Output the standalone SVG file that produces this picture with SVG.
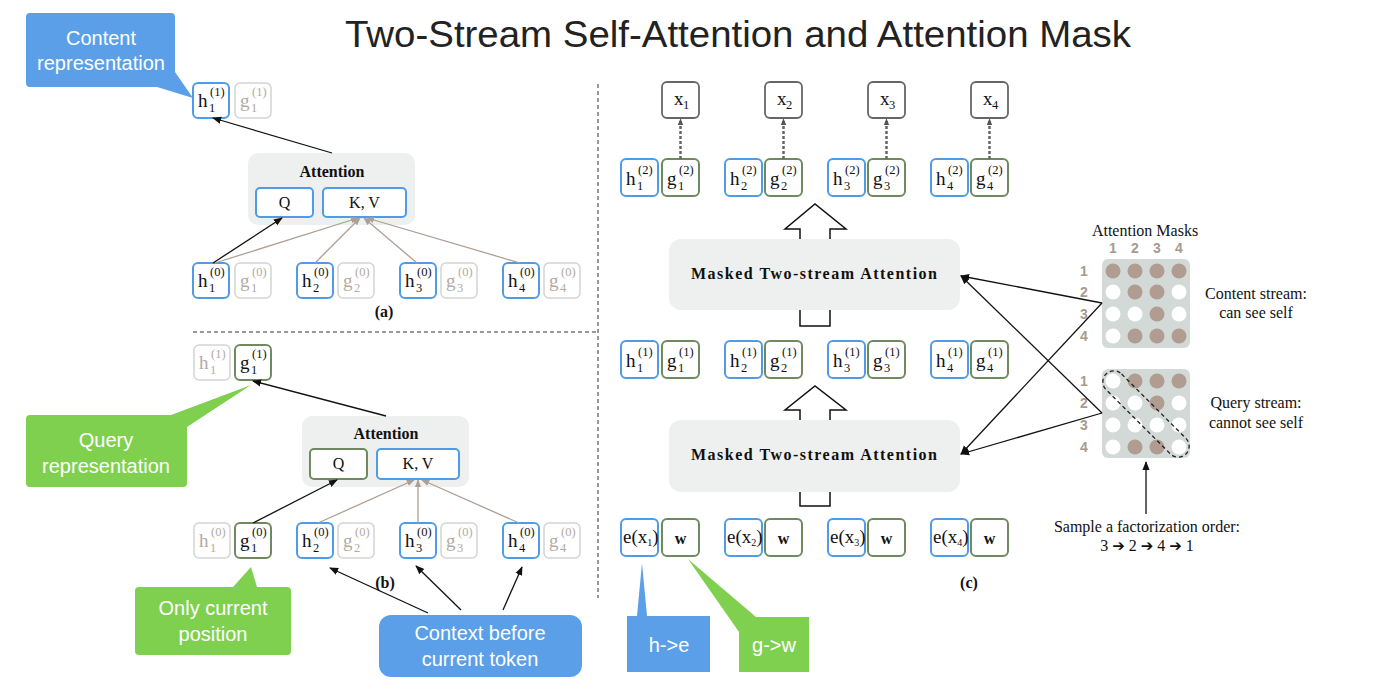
<svg xmlns="http://www.w3.org/2000/svg" width="1400" height="697" viewBox="0 0 1400 697">
<style>
.hb{fill:#fff;stroke:#4f9be8;stroke-width:2}
.gb{fill:#fff;stroke:#6f8a5e;stroke-width:2}
.fb{fill:#fff;stroke:#d4d4d4;stroke-width:1.5}
.xb{fill:#fff;stroke:#666;stroke-width:1.8}
.m{font-family:"Liberation Serif",serif;font-size:19px;fill:#111}
.sp,.sb{font-family:"Liberation Serif",serif;font-size:12.5px;fill:#111}
.f .m,.f .sp,.f .sb{fill:#b3aaa3}
.att{fill:#eef0ef}
.bt{font-family:"Liberation Serif",serif;font-weight:bold;font-size:16px;fill:#111;text-anchor:middle}
.qt{font-family:"Liberation Serif",serif;font-size:16px;fill:#111;text-anchor:middle}
.ct{font-family:"Liberation Sans",sans-serif;font-size:20px;fill:#fff;text-anchor:middle}
.st{font-family:"Liberation Serif",serif;font-size:16px;fill:#111;text-anchor:middle}
.ml{font-family:"Liberation Sans",sans-serif;font-weight:bold;font-size:14px;fill:#a89a8e;text-anchor:middle}
.ar{font-family:"DejaVu Sans",sans-serif;font-size:15px}
.dk{fill:#b09c91}
.wt{fill:#fff}
.blk{stroke:#111;stroke-width:1.3;fill:none;marker-end:url(#ab)}
.gry{stroke:#ad9f95;stroke-width:1.3;fill:none;marker-end:url(#ag)}
.dsh{stroke:#666;stroke-width:2.5;fill:none;stroke-dasharray:3 2;marker-end:url(#ad)}
.sep{stroke:#777;stroke-width:1.5;fill:none;stroke-dasharray:4 3}
.cb{fill:#5b9fe8}
.cg{fill:#80d050}
.hol{fill:#fff;stroke:#111;stroke-width:1.5}
</style>
<defs>
<marker id="ab" viewBox="0 0 10 10" refX="9" refY="5" markerWidth="9" markerHeight="9" markerUnits="userSpaceOnUse" orient="auto"><path d="M0,1 L10,5 L0,9 z" fill="#111"/></marker>
<marker id="ag" viewBox="0 0 10 10" refX="9" refY="5" markerWidth="8" markerHeight="8" markerUnits="userSpaceOnUse" orient="auto"><path d="M0,1 L10,5 L0,9 z" fill="#ad9f95"/></marker>
<marker id="ad" viewBox="0 0 10 10" refX="9" refY="5" markerWidth="7" markerHeight="7" markerUnits="userSpaceOnUse" orient="auto"><path d="M0,1 L10,5 L0,9 z" fill="#555"/></marker>
</defs>
<rect width="1400" height="697" fill="#fff"/>
<text x="738" y="47" text-anchor="middle" font-family="Liberation Sans, sans-serif" font-size="36" fill="#222" textLength="786" lengthAdjust="spacingAndGlyphs">Two-Stream Self-Attention and Attention Mask</text>

<!-- separators -->
<line class="sep" x1="193" y1="332" x2="597" y2="332"/>
<line class="sep" x1="598" y1="84" x2="598" y2="598"/>

<!-- callouts -->
<g id="callout-content">
<path class="cb" d="M30,13 H171 Q175,13 175,17 V72 L193,98 L157,87 H30 Q26,87 26,83 V17 Q26,13 30,13 Z"/>
<text class="ct" x="101" y="45">Content</text>
<text class="ct" x="101" y="70">representation</text>
</g>
<g id="callout-query">
<path class="cg" d="M30,415 H171 L251,385 L187,427 V483 Q187,487 183,487 H30 Q26,487 26,483 V419 Q26,415 30,415 Z"/>
<text class="ct" x="106" y="447">Query</text>
<text class="ct" x="106" y="473">representation</text>
</g>
<g id="callout-only">
<path class="cg" d="M139,587 H233 L251,567 L257,587 H287 Q291,587 291,591 V651 Q291,655 287,655 H139 Q135,655 135,651 V591 Q135,587 139,587 Z"/>
<text class="ct" x="213" y="615">Only current</text>
<text class="ct" x="213" y="641">position</text>
</g>
<g id="callout-context">
<rect class="cb" x="379" y="615" width="203" height="62" rx="12"/>
<text class="ct" x="480" y="640">Context before</text>
<text class="ct" x="480" y="666">current token</text>
</g>
<g id="callout-he">
<path class="cb" d="M627,616 H637 L642,563 L647,616 H710 V672 H627 Z"/>
<text class="ct" x="669" y="652" font-size="22">h-&gt;e</text>
</g>
<g id="callout-gw">
<path class="cg" d="M739,617 H809 V672 H739 V632 L688,559 L756,617 Z"/>
<text class="ct" x="774" y="652" font-size="22">g-&gt;w</text>
</g>

<!-- panel (a) -->
<g id="a-attention">
<rect class="att" x="248" y="153" width="167" height="72" rx="10"/>
<text class="bt" x="332" y="177">Attention</text>
<rect class="hb" x="256" y="188" width="57" height="29" rx="4"/>
<text class="qt" x="284.5" y="208">Q</text>
<rect class="hb" x="323" y="188" width="83" height="29" rx="4"/>
<text class="qt" x="364.5" y="208">K, V</text>
</g>
<g id="a-h1-1" transform="translate(193,83)"><rect class="hb" width="36" height="35" rx="5"/><text class="m" x="5" y="24">h</text><text class="sp" x="17" y="13">(1)</text><text class="sb" x="16" y="29">1</text></g>
<g id="a-g1-1" class="f" transform="translate(235,83)"><rect class="fb" width="36" height="35" rx="5"/><text class="m" x="5" y="24">g</text><text class="sp" x="17" y="13">(1)</text><text class="sb" x="16" y="29">1</text></g>
<g id="a-h1-0" transform="translate(193,263)"><rect class="hb" width="36" height="35" rx="5"/><text class="m" x="5" y="24">h</text><text class="sp" x="17" y="13">(0)</text><text class="sb" x="16" y="29">1</text></g>
<g id="a-g1-0" class="f" transform="translate(235,263)"><rect class="fb" width="36" height="35" rx="5"/><text class="m" x="5" y="24">g</text><text class="sp" x="17" y="13">(0)</text><text class="sb" x="16" y="29">1</text></g>
<g id="a-h2-0" transform="translate(297,263)"><rect class="hb" width="36" height="35" rx="5"/><text class="m" x="5" y="24">h</text><text class="sp" x="17" y="13">(0)</text><text class="sb" x="16" y="29">2</text></g>
<g id="a-g2-0" class="f" transform="translate(338,263)"><rect class="fb" width="36" height="35" rx="5"/><text class="m" x="5" y="24">g</text><text class="sp" x="17" y="13">(0)</text><text class="sb" x="16" y="29">2</text></g>
<g id="a-h3-0" transform="translate(400,263)"><rect class="hb" width="36" height="35" rx="5"/><text class="m" x="5" y="24">h</text><text class="sp" x="17" y="13">(0)</text><text class="sb" x="16" y="29">3</text></g>
<g id="a-g3-0" class="f" transform="translate(441,263)"><rect class="fb" width="36" height="35" rx="5"/><text class="m" x="5" y="24">g</text><text class="sp" x="17" y="13">(0)</text><text class="sb" x="16" y="29">3</text></g>
<g id="a-h4-0" transform="translate(503,263)"><rect class="hb" width="36" height="35" rx="5"/><text class="m" x="5" y="24">h</text><text class="sp" x="17" y="13">(0)</text><text class="sb" x="16" y="29">4</text></g>
<g id="a-g4-0" class="f" transform="translate(544,263)"><rect class="fb" width="36" height="35" rx="5"/><text class="m" x="5" y="24">g</text><text class="sp" x="17" y="13">(0)</text><text class="sb" x="16" y="29">4</text></g>
<text class="bt" x="384" y="317">(a)</text>

<!-- panel (b) -->
<g id="b-attention">
<rect class="att" x="302" y="416" width="167" height="71" rx="10"/>
<text class="bt" x="386" y="439">Attention</text>
<rect class="gb" x="310" y="449" width="57" height="30" rx="4"/>
<text class="qt" x="338.5" y="469">Q</text>
<rect class="hb" x="377" y="449" width="82" height="30" rx="4"/>
<text class="qt" x="418" y="469">K, V</text>
</g>
<g id="b-h1-1" class="f" transform="translate(194,345)"><rect class="fb" width="36" height="35" rx="5"/><text class="m" x="5" y="24">h</text><text class="sp" x="17" y="13">(1)</text><text class="sb" x="16" y="29">1</text></g>
<g id="b-g1-1" transform="translate(235,345)"><rect class="gb" width="36" height="35" rx="5"/><text class="m" x="5" y="24">g</text><text class="sp" x="17" y="13">(1)</text><text class="sb" x="16" y="29">1</text></g>
<g id="b-h1-0" class="f" transform="translate(194,523)"><rect class="fb" width="36" height="35" rx="5"/><text class="m" x="5" y="24">h</text><text class="sp" x="17" y="13">(0)</text><text class="sb" x="16" y="29">1</text></g>
<g id="b-g1-0" transform="translate(235,523)"><rect class="gb" width="36" height="35" rx="5"/><text class="m" x="5" y="24">g</text><text class="sp" x="17" y="13">(0)</text><text class="sb" x="16" y="29">1</text></g>
<g id="b-h2-0" transform="translate(297,523)"><rect class="hb" width="36" height="35" rx="5"/><text class="m" x="5" y="24">h</text><text class="sp" x="17" y="13">(0)</text><text class="sb" x="16" y="29">2</text></g>
<g id="b-g2-0" class="f" transform="translate(338,523)"><rect class="fb" width="36" height="35" rx="5"/><text class="m" x="5" y="24">g</text><text class="sp" x="17" y="13">(0)</text><text class="sb" x="16" y="29">2</text></g>
<g id="b-h3-0" transform="translate(400,523)"><rect class="hb" width="36" height="35" rx="5"/><text class="m" x="5" y="24">h</text><text class="sp" x="17" y="13">(0)</text><text class="sb" x="16" y="29">3</text></g>
<g id="b-g3-0" class="f" transform="translate(441,523)"><rect class="fb" width="36" height="35" rx="5"/><text class="m" x="5" y="24">g</text><text class="sp" x="17" y="13">(0)</text><text class="sb" x="16" y="29">3</text></g>
<g id="b-h4-0" transform="translate(503,523)"><rect class="hb" width="36" height="35" rx="5"/><text class="m" x="5" y="24">h</text><text class="sp" x="17" y="13">(0)</text><text class="sb" x="16" y="29">4</text></g>
<g id="b-g4-0" class="f" transform="translate(544,523)"><rect class="fb" width="36" height="35" rx="5"/><text class="m" x="5" y="24">g</text><text class="sp" x="17" y="13">(0)</text><text class="sb" x="16" y="29">4</text></g>
<text class="bt" x="385" y="588">(b)</text>

<!-- panel (c) -->
<g id="c-x1" transform="translate(662,82)"><rect class="xb" width="37" height="36" rx="5"/><text class="m" x="12" y="23">x</text><text class="sb" x="21" y="27">1</text></g>
<g id="c-x2" transform="translate(765,82)"><rect class="xb" width="37" height="36" rx="5"/><text class="m" x="12" y="23">x</text><text class="sb" x="21" y="27">2</text></g>
<g id="c-x3" transform="translate(868,82)"><rect class="xb" width="37" height="36" rx="5"/><text class="m" x="12" y="23">x</text><text class="sb" x="21" y="27">3</text></g>
<g id="c-x4" transform="translate(971,82)"><rect class="xb" width="37" height="36" rx="5"/><text class="m" x="12" y="23">x</text><text class="sb" x="21" y="27">4</text></g>

<g id="c-h1-2" transform="translate(621,159)"><rect class="hb" width="37" height="37" rx="5"/><text class="m" x="5" y="26">h</text><text class="sp" x="17" y="15">(2)</text><text class="sb" x="16" y="31">1</text></g>
<g id="c-g1-2" transform="translate(662,159)"><rect class="gb" width="37" height="37" rx="5"/><text class="m" x="5" y="26">g</text><text class="sp" x="17" y="15">(2)</text><text class="sb" x="16" y="31">1</text></g>
<g id="c-h2-2" transform="translate(725,159)"><rect class="hb" width="37" height="37" rx="5"/><text class="m" x="5" y="26">h</text><text class="sp" x="17" y="15">(2)</text><text class="sb" x="16" y="31">2</text></g>
<g id="c-g2-2" transform="translate(765,159)"><rect class="gb" width="37" height="37" rx="5"/><text class="m" x="5" y="26">g</text><text class="sp" x="17" y="15">(2)</text><text class="sb" x="16" y="31">2</text></g>
<g id="c-h3-2" transform="translate(828,159)"><rect class="hb" width="37" height="37" rx="5"/><text class="m" x="5" y="26">h</text><text class="sp" x="17" y="15">(2)</text><text class="sb" x="16" y="31">3</text></g>
<g id="c-g3-2" transform="translate(868,159)"><rect class="gb" width="37" height="37" rx="5"/><text class="m" x="5" y="26">g</text><text class="sp" x="17" y="15">(2)</text><text class="sb" x="16" y="31">3</text></g>
<g id="c-h4-2" transform="translate(931,159)"><rect class="hb" width="37" height="37" rx="5"/><text class="m" x="5" y="26">h</text><text class="sp" x="17" y="15">(2)</text><text class="sb" x="16" y="31">4</text></g>
<g id="c-g4-2" transform="translate(971,159)"><rect class="gb" width="37" height="37" rx="5"/><text class="m" x="5" y="26">g</text><text class="sp" x="17" y="15">(2)</text><text class="sb" x="16" y="31">4</text></g>

<g id="c-masked-2">
<rect class="att" x="669" y="239" width="291" height="71" rx="12"/>
<text class="bt" x="814" y="279" textLength="246" lengthAdjust="spacing">Masked Two-stream Attention</text>
</g>

<g id="c-h1-1" transform="translate(621,341)"><rect class="hb" width="37" height="37" rx="5"/><text class="m" x="5" y="26">h</text><text class="sp" x="17" y="15">(1)</text><text class="sb" x="16" y="31">1</text></g>
<g id="c-g1-1" transform="translate(662,341)"><rect class="gb" width="37" height="37" rx="5"/><text class="m" x="5" y="26">g</text><text class="sp" x="17" y="15">(1)</text><text class="sb" x="16" y="31">1</text></g>
<g id="c-h2-1" transform="translate(725,341)"><rect class="hb" width="37" height="37" rx="5"/><text class="m" x="5" y="26">h</text><text class="sp" x="17" y="15">(1)</text><text class="sb" x="16" y="31">2</text></g>
<g id="c-g2-1" transform="translate(765,341)"><rect class="gb" width="37" height="37" rx="5"/><text class="m" x="5" y="26">g</text><text class="sp" x="17" y="15">(1)</text><text class="sb" x="16" y="31">2</text></g>
<g id="c-h3-1" transform="translate(828,341)"><rect class="hb" width="37" height="37" rx="5"/><text class="m" x="5" y="26">h</text><text class="sp" x="17" y="15">(1)</text><text class="sb" x="16" y="31">3</text></g>
<g id="c-g3-1" transform="translate(868,341)"><rect class="gb" width="37" height="37" rx="5"/><text class="m" x="5" y="26">g</text><text class="sp" x="17" y="15">(1)</text><text class="sb" x="16" y="31">3</text></g>
<g id="c-h4-1" transform="translate(931,341)"><rect class="hb" width="37" height="37" rx="5"/><text class="m" x="5" y="26">h</text><text class="sp" x="17" y="15">(1)</text><text class="sb" x="16" y="31">4</text></g>
<g id="c-g4-1" transform="translate(971,341)"><rect class="gb" width="37" height="37" rx="5"/><text class="m" x="5" y="26">g</text><text class="sp" x="17" y="15">(1)</text><text class="sb" x="16" y="31">4</text></g>

<g id="c-masked-1">
<rect class="att" x="669" y="420" width="291" height="72" rx="12"/>
<text class="bt" x="814" y="460" textLength="246" lengthAdjust="spacing">Masked Two-stream Attention</text>
</g>

<g id="c-e1" transform="translate(621,519)"><rect class="hb" width="37" height="37" rx="5"/><text class="m" x="2" y="24" font-size="15">e(x<tspan font-size="10" dy="3">1</tspan><tspan dy="-3">)</tspan></text></g>
<g id="c-w1" transform="translate(662,519)"><rect class="gb" width="37" height="37" rx="5"/><text class="qt" x="18.5" y="25" font-weight="bold" font-size="17">w</text></g>
<g id="c-e2" transform="translate(725,519)"><rect class="hb" width="37" height="37" rx="5"/><text class="m" x="2" y="24" font-size="15">e(x<tspan font-size="10" dy="3">2</tspan><tspan dy="-3">)</tspan></text></g>
<g id="c-w2" transform="translate(765,519)"><rect class="gb" width="37" height="37" rx="5"/><text class="qt" x="18.5" y="25" font-weight="bold" font-size="17">w</text></g>
<g id="c-e3" transform="translate(828,519)"><rect class="hb" width="37" height="37" rx="5"/><text class="m" x="2" y="24" font-size="15">e(x<tspan font-size="10" dy="3">3</tspan><tspan dy="-3">)</tspan></text></g>
<g id="c-w3" transform="translate(868,519)"><rect class="gb" width="37" height="37" rx="5"/><text class="qt" x="18.5" y="25" font-weight="bold" font-size="17">w</text></g>
<g id="c-e4" transform="translate(931,519)"><rect class="hb" width="37" height="37" rx="5"/><text class="m" x="2" y="24" font-size="15">e(x<tspan font-size="10" dy="3">4</tspan><tspan dy="-3">)</tspan></text></g>
<g id="c-w4" transform="translate(971,519)"><rect class="gb" width="37" height="37" rx="5"/><text class="qt" x="18.5" y="25" font-weight="bold" font-size="17">w</text></g>
<text class="bt" x="969" y="588">(c)</text>

<!-- masks -->
<g id="masks">
<text class="st" x="1145" y="236">Attention Masks</text>
<text class="ml" x="1113" y="253">1</text><text class="ml" x="1135" y="253">2</text><text class="ml" x="1157" y="253">3</text><text class="ml" x="1179" y="253">4</text>
<g id="content-mask">
<rect x="1102" y="259" width="88" height="89" rx="6" fill="#d3d9d7"/>
<text class="ml" x="1084" y="276">1</text><text class="ml" x="1084" y="297">2</text><text class="ml" x="1084" y="319">3</text><text class="ml" x="1084" y="341">4</text>
<circle class="dk" cx="1113" cy="271" r="7.5"/><circle class="dk" cx="1135" cy="271" r="7.5"/><circle class="dk" cx="1157" cy="271" r="7.5"/><circle class="dk" cx="1179" cy="271" r="7.5"/>
<circle class="wt" cx="1113" cy="292" r="7.5"/><circle class="dk" cx="1135" cy="292" r="7.5"/><circle class="dk" cx="1157" cy="292" r="7.5"/><circle class="wt" cx="1179" cy="292" r="7.5"/>
<circle class="wt" cx="1113" cy="314" r="7.5"/><circle class="wt" cx="1135" cy="314" r="7.5"/><circle class="dk" cx="1157" cy="314" r="7.5"/><circle class="wt" cx="1179" cy="314" r="7.5"/>
<circle class="wt" cx="1113" cy="336" r="7.5"/><circle class="dk" cx="1135" cy="336" r="7.5"/><circle class="dk" cx="1157" cy="336" r="7.5"/><circle class="dk" cx="1179" cy="336" r="7.5"/>
<text class="st" x="1256" y="299">Content stream:</text>
<text class="st" x="1256" y="318">can see self</text>
</g>
<g id="query-mask">
<rect x="1102" y="369" width="88" height="89" rx="6" fill="#d3d9d7"/>
<text class="ml" x="1084" y="386">1</text><text class="ml" x="1084" y="408">2</text><text class="ml" x="1084" y="430">3</text><text class="ml" x="1084" y="452">4</text>
<circle class="wt" cx="1113" cy="381" r="7.5"/><circle class="dk" cx="1135" cy="381" r="7.5"/><circle class="dk" cx="1157" cy="381" r="7.5"/><circle class="dk" cx="1179" cy="381" r="7.5"/>
<circle class="wt" cx="1113" cy="403" r="7.5"/><circle class="wt" cx="1135" cy="403" r="7.5"/><circle class="dk" cx="1157" cy="403" r="7.5"/><circle class="wt" cx="1179" cy="403" r="7.5"/>
<circle class="wt" cx="1113" cy="425" r="7.5"/><circle class="wt" cx="1135" cy="425" r="7.5"/><circle class="wt" cx="1157" cy="425" r="7.5"/><circle class="wt" cx="1179" cy="425" r="7.5"/>
<circle class="wt" cx="1113" cy="447" r="7.5"/><circle class="dk" cx="1135" cy="447" r="7.5"/><circle class="dk" cx="1157" cy="447" r="7.5"/><circle class="wt" cx="1179" cy="447" r="7.5"/>
<rect x="1089.5" y="403" width="113" height="22" rx="11" transform="rotate(45 1146 414)" fill="none" stroke="#222" stroke-width="1.3" stroke-dasharray="4 3"/>
<text class="st" x="1256" y="408">Query stream:</text>
<text class="st" x="1256" y="428">cannot see self</text>
</g>
<text class="st" x="1147" y="532">Sample a factorization order:</text>
<text class="st" x="1147" y="551">3 <tspan class="ar">➔</tspan> 2 <tspan class="ar">➔</tspan> 4 <tspan class="ar">➔</tspan> 1</text>
</g>

<!-- connectors -->
<g id="connectors">
<line class="blk" x1="332" y1="153" x2="213" y2="118"/>
<line class="blk" x1="213" y1="263" x2="282" y2="218"/>
<line class="gry" x1="215" y1="263" x2="358" y2="218"/>
<line class="gry" x1="315" y1="263" x2="360" y2="218"/>
<line class="gry" x1="417" y1="263" x2="364" y2="218"/>
<line class="gry" x1="520" y1="263" x2="367" y2="218"/>
<line class="blk" x1="386" y1="416" x2="253" y2="381"/>
<line class="blk" x1="253" y1="523" x2="337" y2="480"/>
<line class="gry" x1="318" y1="523" x2="414" y2="480"/>
<line class="gry" x1="418" y1="523" x2="418" y2="480"/>
<line class="gry" x1="519" y1="523" x2="422" y2="480"/>
<line class="blk" x1="428" y1="613" x2="330" y2="568"/>
<line class="blk" x1="461" y1="610" x2="416" y2="566"/>
<line class="blk" x1="503" y1="610" x2="522" y2="567"/>
<line class="dsh" x1="680.5" y1="159" x2="680.5" y2="119"/>
<line class="dsh" x1="783.5" y1="159" x2="783.5" y2="119"/>
<line class="dsh" x1="886.5" y1="159" x2="886.5" y2="119"/>
<line class="dsh" x1="989.5" y1="159" x2="989.5" y2="119"/>
<path class="hol" d="M800,239 V229 H785 L815,204 L846,229 H830 V239"/>
<path class="hol" d="M800,310 V326 H830 V310" fill="none"/>
<path class="hol" d="M800,420 V410 H785 L815,386 L846,410 H830 V420"/>
<path class="hol" d="M800,492 V506 H830 V492" fill="none"/>
<line class="blk" x1="1102" y1="303" x2="961" y2="276"/>
<line class="blk" x1="1102" y1="303" x2="961" y2="454"/>
<line class="blk" x1="1102" y1="413" x2="961" y2="276"/>
<line class="blk" x1="1102" y1="413" x2="961" y2="454"/>
<line class="blk" x1="1146" y1="514" x2="1146" y2="462"/>
</g>
</svg>
